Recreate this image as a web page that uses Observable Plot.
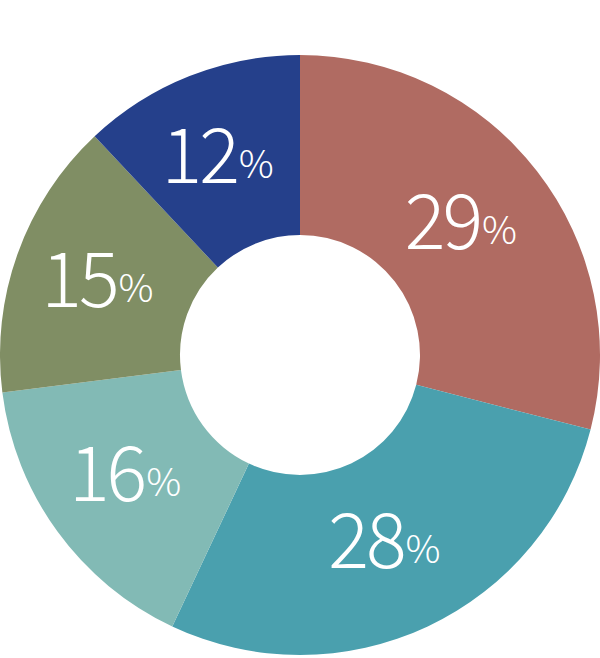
<!DOCTYPE html>
<html>
<head>
<meta charset="utf-8">
<script src="https://cdn.jsdelivr.net/npm/d3@7"></script>
<script src="https://cdn.jsdelivr.net/npm/@observablehq/plot@0.6"></script>
<style>
  html, body { margin: 0; padding: 0; background: #fff; }
  #chart svg { display: block; }
</style>
</head>
<body>
<div id="chart"></div>
<script>
const categories = ["A", "B", "C", "D", "E"];
const values = [29, 28, 16, 15, 12];
const labels = ["29", "28", "16", "15", "12"];
const colors = ["#B06B62", "#4AA0AE", "#82BAB5", "#808E64", "#25408B"];

const data = categories.map((c, i) => ({category: c, value: values[i], label: labels[i], color: colors[i]}));

const pie = d3.pie().value(d => d.value).sort(null);
const arcs = pie(data);

const innerFrac = 0.4;
const labelFrac = 0.7;

function donut(index, scales) {
  const x = scales.x, y = scales.y;
  const cx = x(0), cy = y(0);
  const R = Math.abs(x(1) - x(0));
  const arc = d3.arc().innerRadius(R * innerFrac).outerRadius(R);
  const g = d3.create("svg:g").attr("transform", `translate(${cx},${cy})`);
  g.selectAll("path").data(arcs).join("path")
    .attr("d", arc)
    .attr("fill", d => d.data.color);
  return g.node();
}

function labelsMark(index, scales) {
  const x = scales.x, y = scales.y;
  const g = d3.create("svg:g")
    .attr("font-family", "'Noto Sans CJK JP', 'Noto Sans', sans-serif")
    .attr("fill", "#fff");
  for (const a of arcs) {
    const mid = (a.startAngle + a.endAngle) / 2;
    const px = x(labelFrac * Math.sin(mid));
    const py = y(labelFrac * Math.cos(mid));
    const t = g.append("text")
      .attr("x", px - 5)
      .attr("y", py)
      .attr("dy", 23)
      .attr("text-anchor", "middle");
    t.append("tspan").attr("font-size", 76).attr("font-weight", 300).attr("letter-spacing", -3).text(a.data.label);
    t.append("tspan").attr("font-size", 39).attr("font-weight", 300).attr("dx", 2).attr("dy", -5).text("%");
  }
  return g.node();
}

const chart = Plot.plot({
  width: 600,
  height: 658,
  margin: 0,
  x: {domain: [-1, 1], axis: null},
  y: {domain: [-303 / 300, 355 / 300], axis: null},
  marks: [donut, labelsMark]
});
document.getElementById("chart").appendChild(chart);
</script>
</body>
</html>
